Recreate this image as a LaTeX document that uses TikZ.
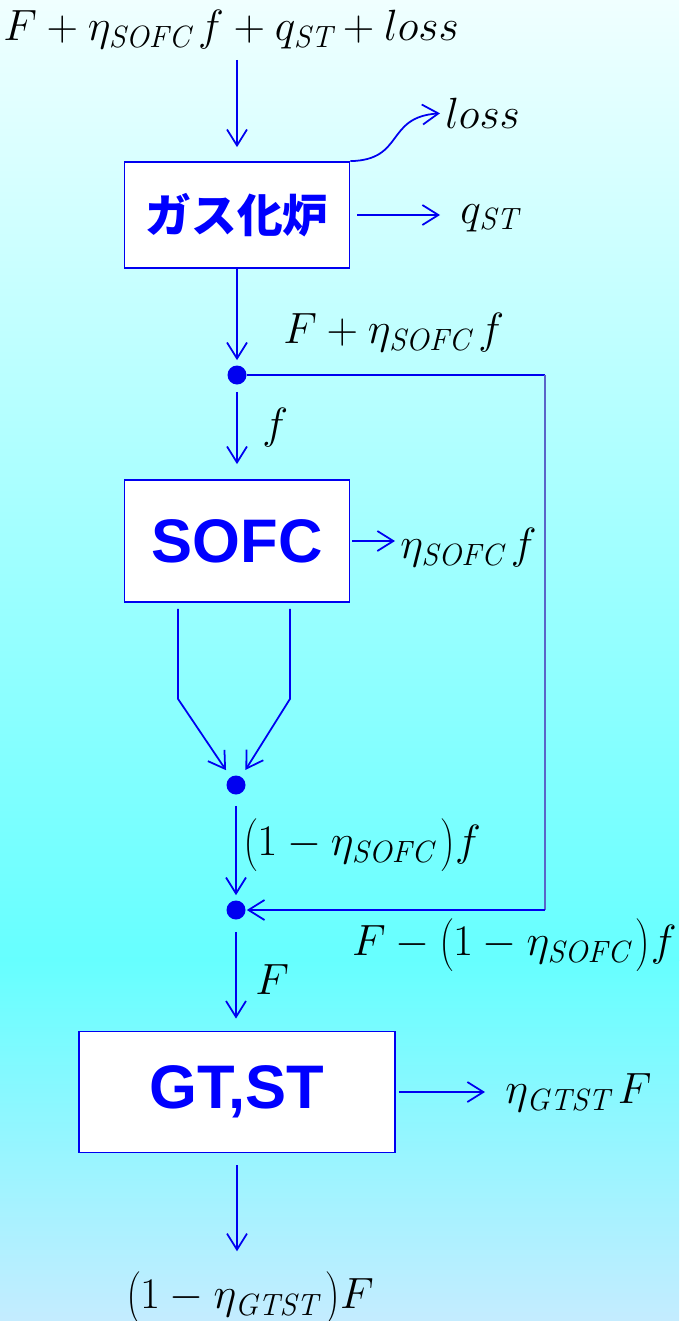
\documentclass[tikz,border=0pt]{standalone}
\usepackage{fontspec}
\setsansfont{Liberation Sans}
\newfontfamily\jpfont{Noto Sans CJK JP}
\usetikzlibrary{arrows.meta, positioning, calc}
\definecolor{flBlue}{HTML}{0000F0}
\definecolor{flText}{HTML}{0000FF}
\definecolor{flReturn}{HTML}{5A64C8}
\definecolor{bgTop}{HTML}{F0FFFF}
\definecolor{bgMid}{HTML}{66FFFF}
\definecolor{bgLow}{HTML}{C4ECFF}
\newcommand{\etaSOFC}{\eta_{\mathit{SOFC}}\,}
\newcommand{\etaGTST}{\eta_{\mathit{GTST}}\,}
\newcommand{\tallpar}[1]{{\left(\vrule height 0.85em depth 0.35em width 0pt #1\right)}}
\tikzset{
  unitbox/.style={rectangle, draw=flBlue, line width=1pt, fill=white,
    align=center, text=flText, inner sep=0pt},
  unitboxSans/.style={unitbox, font=\sffamily\bfseries\fontsize{35}{40}\selectfont},
  flow/.style={-{Straight Barb[length=3.2mm, width=4mm, line width=1pt]},
    line width=1pt, flBlue},
  mixdot/.style={circle, fill=flBlue, minimum size=3.8mm, inner sep=0pt},
  qty/.style={font=\fontsize{25}{30}\selectfont, inner sep=0pt}
}

\begin{document}
\begin{tikzpicture}[x=0.2mm, y=-0.2mm]
        % background
        \shade[top color=bgTop, bottom color=bgMid] (0,0) rectangle (679,960);
        \shade[top color=bgMid, bottom color=bgLow] (0,960) rectangle (679,1321);
        \useasboundingbox (0,0) rectangle (679,1321);

        % units
        \node[unitbox, minimum width=4.5cm, minimum height=2.12cm,
          font=\jpfont\bfseries\fontsize{26}{30}\selectfont] (gas) at (237,215) {ガス化炉};
        \node[unitboxSans, minimum width=4.5cm, minimum height=2.44cm] (sofc) at (237,541) {SOFC};
        \node[unitboxSans, minimum width=6.32cm, minimum height=2.42cm] (gtst) at (237,1092) {GT,ST};

        % mixing points
        \node[mixdot] (d1) at (237,375) {};
        \node[mixdot] (d2) at (236,785) {};
        \node[mixdot] (d3) at (236,910) {};
        \coordinate (retTop) at (545,375);
        \coordinate (retLow) at (545,910);

        % quantities
        \node[qty] (feed) at (231,30) {$F+\etaSOFC f+q_{\mathit{ST}}+loss$};
        \node[qty, anchor=west] (lossout) at (445,113) {$loss$};
        \node[qty, anchor=west] (qst) at (460,218) {$q_{\mathit{ST}}$};
        \node[qty, anchor=west] (split) at (283,333) {$F+\etaSOFC f$};
        \node[qty, anchor=west] (fin) at (262,428) {$f$};
        \node[qty, anchor=west] (power) at (400,548) {$\etaSOFC f$};
        \node[qty, anchor=west] (offgas) at (243,845) {$\tallpar{1-\etaSOFC}f$};
        \node[qty, anchor=east] (bypass) at (677,945) {$F-\tallpar{1-\etaSOFC}f$};
        \node[qty, anchor=west] (fgt) at (255,980) {$F$};
        \node[qty, anchor=west] (gtpower) at (505,1093) {$\etaGTST F$};
        \node[qty] (exhaust) at (250,1298) {$\tallpar{1-\etaGTST}F$};

        % flows
        \draw[flow, shorten <=2mm, shorten >=2.8mm] (feed.south -| gas.north) -- (gas.north);
        \draw[flow, shorten >=1mm] (gas.north east) .. controls (405,160) and (385,117) .. (lossout.west);
        \draw[flow, shorten <=1.4mm, shorten >=4mm] (gas.east) -- (gas.east -| qst.west);
        \draw[flow, shorten >=1mm] (gas.south) -- (d1);
        \draw[flow, shorten <=1.4mm, shorten >=3mm] (d1) -- (sofc.north);
        \draw[flow, shorten <=0.4mm, shorten >=1mm] (sofc.east) -- (sofc.east -| power.west);
        \foreach \dx in {-59,53}
          \draw[flow, shorten >=1.6mm] ($(sofc.south)+(\dx,6)$) -- ++(0,90) -- (d2);
        \draw[flow, shorten <=2.2mm, shorten >=1mm] (d2) -- (d3);
        \draw[line width=1pt, flBlue] (d1) -- (retTop);
        \draw[line width=0.6pt, flReturn] (retTop) -- (retLow);
        \draw[flow, shorten >=0.2mm] (retLow) -- (d3);
        \draw[flow, shorten <=2.4mm, shorten >=2.4mm] (d3) -- (d3 |- gtst.north);
        \draw[flow, shorten <=0.6mm, shorten >=4mm] (gtst.east) -- (gtst.east -| gtpower.west);
        \draw[flow, shorten <=2.4mm, shorten >=4mm] (gtst.south) -- (gtst.south |- exhaust.north);
      \end{tikzpicture}
\end{document}
